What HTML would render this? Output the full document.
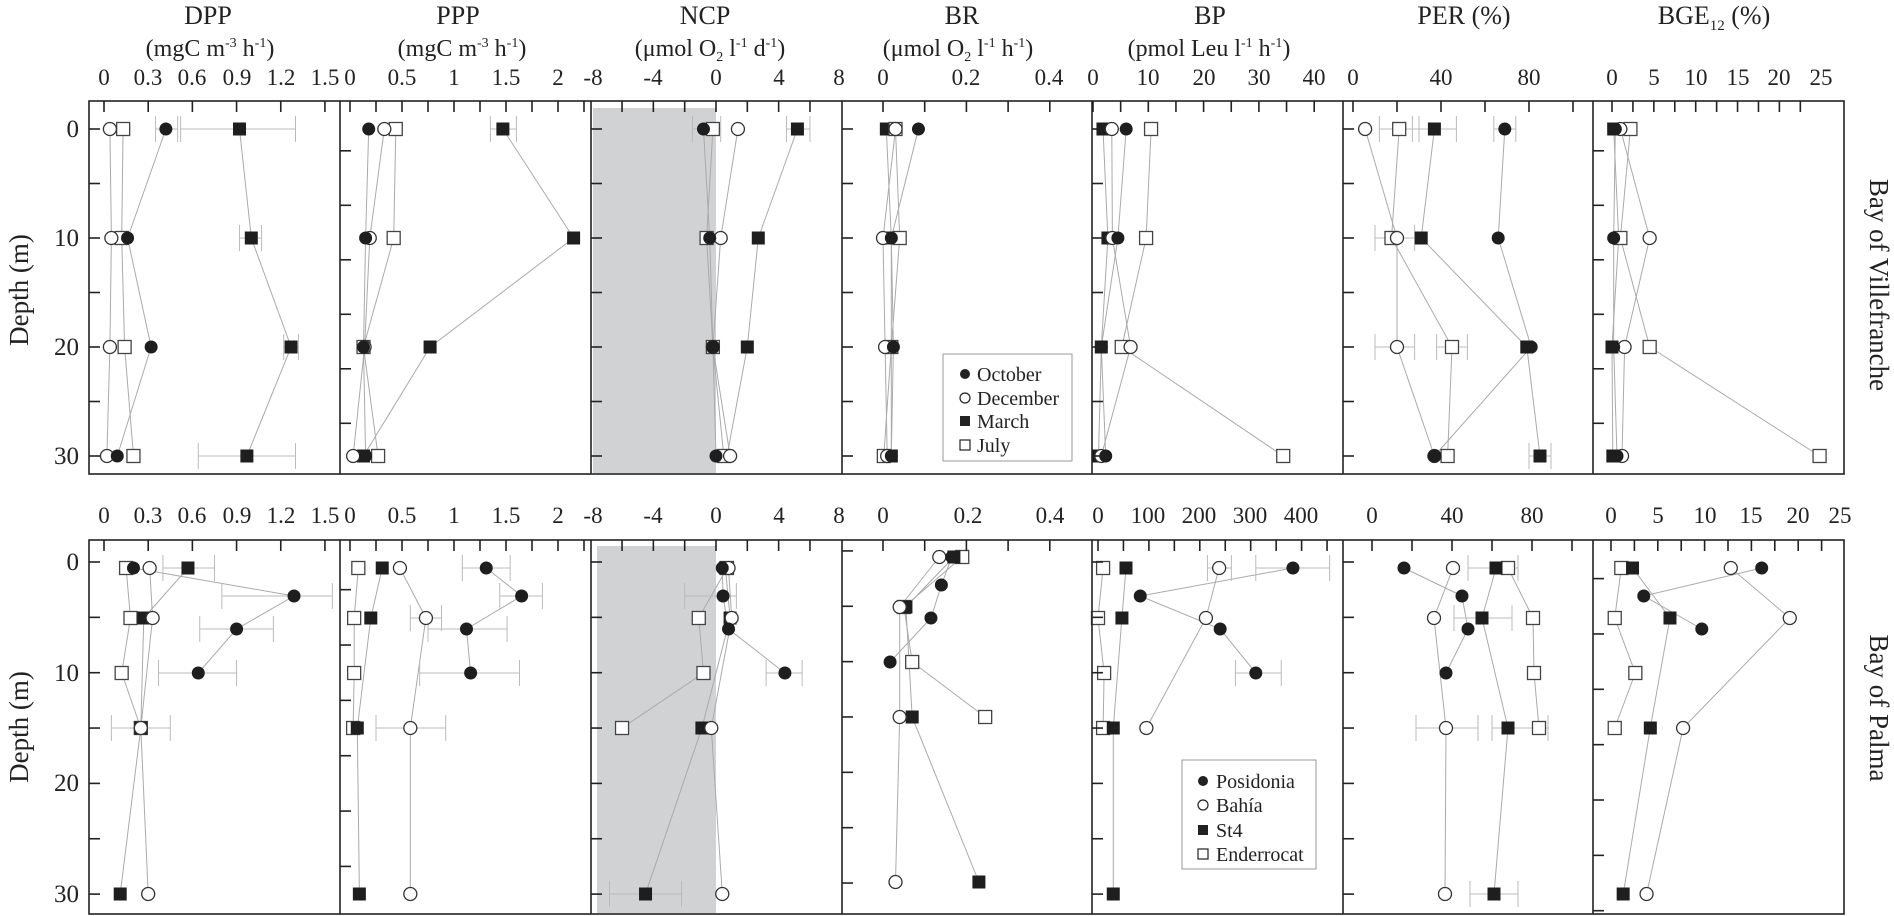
<!DOCTYPE html>
<html><head><meta charset="utf-8"><style>
html,body{margin:0;padding:0;background:#fff;}
svg{display:block;}
svg text{font-family:"Liberation Serif","DejaVu Serif",serif;}
</style></head><body>
<svg id="s" width="1894" height="916" viewBox="0 0 1894 916" xmlns="http://www.w3.org/2000/svg" font-family="Liberation Serif, DejaVu Serif, serif">
<rect x="0" y="0" width="1894" height="916" fill="#fff"/>
<rect x="593" y="108" width="123" height="365" fill="#d1d2d4"/>
<rect x="597" y="546" width="119" height="367" fill="#d1d2d4"/>
<g id="lines"></g><g id="errs"></g><g id="marks"></g><g id="axes" stroke="#222" fill="none" stroke-width="1.6"></g>
<g fill="#222" font-size="26" text-anchor="middle" font-family="Liberation Serif, serif">
<text x="208" y="24">DPP</text>
<text x="210" y="56" font-size="24">(mgC m<tspan font-size="14" dy="-9">-3</tspan><tspan dy="9"> h</tspan><tspan font-size="14" dy="-9">-1</tspan><tspan dy="9">)</tspan></text>
<text x="458" y="24">PPP</text>
<text x="462" y="56" font-size="24">(mgC m<tspan font-size="14" dy="-9">-3</tspan><tspan dy="9"> h</tspan><tspan font-size="14" dy="-9">-1</tspan><tspan dy="9">)</tspan></text>
<text x="705" y="24">NCP</text>
<text x="710" y="56" font-size="24">(μmol O<tspan font-size="14" dy="5">2</tspan><tspan dy="-5"> l</tspan><tspan font-size="14" dy="-9">-1</tspan><tspan dy="9"> d</tspan><tspan font-size="14" dy="-9">-1</tspan><tspan dy="9">)</tspan></text>
<text x="962" y="24">BR</text>
<text x="958" y="56" font-size="24">(μmol O<tspan font-size="14" dy="5">2</tspan><tspan dy="-5"> l</tspan><tspan font-size="14" dy="-9">-1</tspan><tspan dy="9"> h</tspan><tspan font-size="14" dy="-9">-1</tspan><tspan dy="9">)</tspan></text>
<text x="1210" y="24">BP</text>
<text x="1209" y="56" font-size="24">(pmol Leu l<tspan font-size="14" dy="-9">-1</tspan><tspan dy="9"> h</tspan><tspan font-size="14" dy="-9">-1</tspan><tspan dy="9">)</tspan></text>
<text x="1464" y="24">PER (%)</text>
<text x="1714" y="24">BGE<tspan font-size="15" dy="6">12</tspan><tspan dy="-6"> (%)</tspan></text>
</g>
<g fill="#222" font-size="23" text-anchor="middle" font-family="Liberation Serif, serif">
<text x="104" y="85">0</text><text x="148" y="85">0.3</text><text x="192" y="85">0.6</text><text x="237" y="85">0.9</text><text x="281" y="85">1.2</text><text x="325" y="85">1.5</text>
<text x="350" y="85">0</text><text x="402" y="85">0.5</text><text x="454" y="85">1</text><text x="506" y="85">1.5</text><text x="558" y="85">2</text>
<text x="593" y="85">-8</text><text x="653" y="85">-4</text><text x="716" y="85">0</text><text x="779" y="85">4</text><text x="839" y="85">8</text>
<text x="883" y="85">0</text><text x="966" y="85">0.2</text><text x="1049" y="85">0.4</text>
<text x="1093" y="85">0</text><text x="1148" y="85">10</text><text x="1204" y="85">20</text><text x="1259" y="85">30</text><text x="1314" y="85">40</text>
<text x="1353" y="85">0</text><text x="1441" y="85">40</text><text x="1529" y="85">80</text>
<text x="1612" y="85">0</text><text x="1654" y="85">5</text><text x="1696" y="85">10</text><text x="1738" y="85">15</text><text x="1779" y="85">20</text><text x="1821" y="85">25</text>

<text x="104" y="523">0</text><text x="148" y="523">0.3</text><text x="192" y="523">0.6</text><text x="237" y="523">0.9</text><text x="281" y="523">1.2</text><text x="325" y="523">1.5</text>
<text x="350" y="523">0</text><text x="402" y="523">0.5</text><text x="454" y="523">1</text><text x="506" y="523">1.5</text><text x="558" y="523">2</text>
<text x="593" y="523">-8</text><text x="653" y="523">-4</text><text x="716" y="523">0</text><text x="779" y="523">4</text><text x="839" y="523">8</text>
<text x="883" y="523">0</text><text x="968" y="523">0.2</text><text x="1050" y="523">0.4</text>
<text x="1098" y="523">0</text><text x="1148" y="523">100</text><text x="1199" y="523">200</text><text x="1250" y="523">300</text><text x="1301" y="523">400</text>
<text x="1372" y="523">0</text><text x="1452" y="523">40</text><text x="1532" y="523">80</text>
<text x="1611" y="523">0</text><text x="1658" y="523">5</text><text x="1705" y="523">10</text><text x="1751" y="523">15</text><text x="1798" y="523">20</text><text x="1840" y="523">25</text>
</g>
<g fill="#222" font-size="25" text-anchor="end" font-family="Liberation Serif, serif">
<text x="79" y="137">0</text><text x="79" y="246">10</text><text x="79" y="355">20</text><text x="79" y="464">30</text>
<text x="79" y="570">0</text><text x="79" y="681">10</text><text x="79" y="791">20</text><text x="79" y="902">30</text>
</g>
<g fill="#222" font-size="27" text-anchor="middle" font-family="Liberation Serif, serif">
<text transform="translate(28,290) rotate(-90)">Depth (m)</text>
<text transform="translate(28,727) rotate(-90)">Depth (m)</text>
<text transform="translate(1870,285) rotate(90)">Bay of Villefranche</text>
<text transform="translate(1870,708) rotate(90)">Bay of Palma</text>
</g>
<rect x="943" y="354" width="129" height="107" fill="#fff" stroke="#999" stroke-width="1"/>
<g fill="#222" font-size="20" font-family="Liberation Serif, serif">
<circle cx="965" cy="374" r="5" fill="#222"/><text x="977" y="381">October</text>
<circle cx="965" cy="398" r="5" fill="#fff" stroke="#222" stroke-width="1.2"/><text x="977" y="405">December</text>
<rect x="960" y="416" width="10" height="10" fill="#222"/><text x="977" y="428">March</text>
<rect x="960" y="440" width="10" height="10" fill="#fff" stroke="#222" stroke-width="1.2"/><text x="977" y="452">July</text>
</g>
<rect x="1182" y="760" width="134" height="109" fill="#fff" stroke="#999" stroke-width="1"/>
<g fill="#222" font-size="20" font-family="Liberation Serif, serif">
<circle cx="1203" cy="781" r="5" fill="#222"/><text x="1216" y="788">Posidonia</text>
<circle cx="1203" cy="805" r="5" fill="#fff" stroke="#222" stroke-width="1.2"/><text x="1216" y="812">Bahía</text>
<rect x="1198" y="825" width="10" height="10" fill="#222"/><text x="1216" y="837">St4</text>
<rect x="1198" y="849" width="10" height="10" fill="#fff" stroke="#222" stroke-width="1.2"/><text x="1216" y="861">Enderrocat</text>
</g>
</svg>
<script>
(function(){
var NS="http://www.w3.org/2000/svg";
function el(par,tag,a){var e=document.createElementNS(NS,tag);for(var k in a)e.setAttribute(k,a[k]);document.getElementById(par).appendChild(e);return e;}
var B=[89,340,591,842,1092,1343,1593,1844];
el("axes","rect",{x:89,y:101,width:1755,height:373});
el("axes","rect",{x:89,y:540,width:1755,height:374});
for(var i=1;i<7;i++){el("axes","line",{x1:B[i],y1:101,x2:B[i],y2:474});el("axes","line",{x1:B[i],y1:540,x2:B[i],y2:914});}
function xt(list,y0,dir){list.forEach(function(x){el("axes","line",{x1:x,y1:y0,x2:x,y2:y0+11*dir});});}
function rng(a,b,s){var r=[];for(var v=a;v<=b+1e-9;v+=s)r.push(v);return r;}
var fx={
 dpp:function(v){return 104+147.3*v;}, ppp:function(v){return 350+104*v;},
 ncp:function(v){return 716+15.66*v;}, br:function(v){return 883+417*v;},
 bpT:function(v){return 1093+5.53*v;}, perT:function(v){return 1353+2.2*v;}, bgeT:function(v){return 1612+8.37*v;},
 bpB:function(v){return 1098+0.509*v;}, perB:function(v){return 1372+2*v;}, bgeB:function(v){return 1611+9.36*v;}
};
[0,1].forEach(function(r){
 var y0=r?540:101;
 xt(rng(0,1.5,0.3).map(fx.dpp),y0,1);
 xt(rng(0,2.25,0.25).map(fx.ppp),y0,1);
 xt(rng(-6,6,2).map(fx.ncp),y0,1);
 xt(rng(0,0.4,0.1).map(fx.br),y0,1);
 if(r){xt(rng(0,450,50).map(fx.bpB).filter(function(x){return x<1340;}),y0,1);xt(rng(0,80,20).map(fx.perB).concat([1572]),y0,1);xt(rng(0,22.5,2.5).map(fx.bgeB),y0,1);}
 else{xt(rng(0,45,5).map(fx.bpT).filter(function(x){return x<1340;}),y0,1);xt(rng(0,100,20).map(fx.perT).filter(function(x){return x<1590;}),y0,1);xt(rng(0,22.5,2.5).map(fx.bgeT),y0,1);}
});
var offT=[0,2,0,0,0,0,2],offB=[0,2.5,0,-1,0,0,1.5];
for(var p=0;p<7;p++){
 for(var d=-5;d<=35;d+=5){
  var yt=129+10.9*(d+offT[p]); if(yt>104&&yt<472) el("axes","line",{x1:B[p],y1:yt,x2:B[p]+11,y2:yt});
  var yb=562+11.07*(d+offB[p]); if(yb>543&&yb<912) el("axes","line",{x1:B[p],y1:yb,x2:B[p]+11,y2:yb});
 }
}
function mark(t,x,y){
 if(t=="fc")el("marks","circle",{cx:x,cy:y,r:6.5,fill:"#1e1e1e"});
 else if(t=="oc")el("marks","circle",{cx:x,cy:y,r:6.5,fill:"#fff",stroke:"#333","stroke-width":1.3});
 else if(t=="fs")el("marks","rect",{x:x-6.5,y:y-6.5,width:13,height:13,fill:"#1e1e1e"});
 else el("marks","rect",{x:x-6.5,y:y-6.5,width:13,height:13,fill:"#fff",stroke:"#444","stroke-width":1.3});
}
function series(f,t,pts,ymap){
 var d="";pts.forEach(function(p,i){d+=(i?"L":"M")+f(p[0]).toFixed(1)+" "+ymap(p[1]).toFixed(1);});
 el("lines","path",{d:d,fill:"none",stroke:"#aaa","stroke-width":1});
 return function(){pts.forEach(function(p){mark(t,f(p[0]),ymap(p[1]));});};
}
function err(f,lo,hi,y){
 var a=f(lo),b=f(hi);
 el("errs","line",{x1:a,y1:y,x2:b,y2:y,stroke:"#bbb","stroke-width":1});
 el("errs","line",{x1:a,y1:y-13,x2:a,y2:y+13,stroke:"#bbb","stroke-width":1});
 el("errs","line",{x1:b,y1:y-13,x2:b,y2:y+13,stroke:"#bbb","stroke-width":1});
}
var yT=function(d){return 129+10.9*d;};
var YB={0:568,3:596,5:618,6:629,10:673,15:728,30:894};
var YBR={0:557,3:585,5:607,6:618,10:662,15:717,30:882};
var yB=function(k){return YB[k];}, yR=function(k){return YBR[k];};
var D=[0,10,20,30];
function top(f,oct,dec,mar,jul){
 var z=function(a){return a.map(function(v,i){return [v,D[i]];});};
 return [series(f,"fs",z(mar),yT),series(f,"os",z(jul),yT),series(f,"oc",z(dec),yT),series(f,"fc",z(oct),yT)];
}
var draws=[];
draws=draws.concat(top(fx.dpp,[0.42,0.16,0.32,0.09],[0.04,0.05,0.04,0.02],[0.92,1.0,1.27,0.97],[0.13,0.12,0.14,0.2]));
draws=draws.concat(top(fx.ppp,[0.18,0.15,0.13,0.15],[0.33,0.19,0.14,0.03],[1.47,2.15,0.77,0.13],[0.44,0.42,0.13,0.27]));
draws=draws.concat(top(fx.ncp,[-0.8,-0.4,-0.2,0],[1.4,0.3,-0.2,0.9],[5.2,2.7,2.0,0.7],[-0.2,-0.6,-0.2,0.5]));
draws=draws.concat(top(fx.br,[0.085,0.02,0.025,0.02],[0.03,0,0.005,0.01],[0.008,0.02,0.02,0.02],[0.03,0.04,0.02,0.002]));
draws=draws.concat(top(fx.bpT,[6,4.5,1.5,2.3],[3.4,3.5,6.8,1.5],[1.8,2.7,1.5,1],[10.5,9.6,5.2,34.4]));
draws=draws.concat(top(fx.perT,[69,66,81,37],[5.5,20,20,37],[37,31,79,85],[21,17.5,45,43]));
draws=draws.concat(top(fx.bgeT,[0.4,0.2,0.2,0.6],[1.0,4.5,1.5,1.2],[0.2,0.8,0,0.1],[2.2,1.0,4.5,24.8]));
err(fx.dpp,0.52,1.3,129);err(fx.dpp,0.35,0.5,129);err(fx.dpp,0.92,1.07,238);err(fx.dpp,1.22,1.32,347);err(fx.dpp,0.64,1.3,456);
err(fx.ppp,1.35,1.6,129);err(fx.ncp,4.5,6,129);err(fx.ncp,-1.5,0.3,129);
err(fx.perT,12,30,129);err(fx.perT,27,47,129);err(fx.perT,64,74,129);err(fx.perT,10,28,238);err(fx.perT,38,52,347);err(fx.perT,10,28,347);err(fx.perT,80,90,456);
function bot(f,ym,pos,bah,st4,end){
 return [series(f,"os",end,ym),series(f,"fs",st4,ym),series(f,"oc",bah,ym),series(f,"fc",pos,ym)];
}
draws=draws.concat(bot(fx.dpp,yB,[[0.2,0],[1.29,3],[0.9,6],[0.64,10]],[[0.31,0],[0.33,5],[0.25,15],[0.3,30]],[[0.57,0],[0.27,5],[0.25,15],[0.11,30]],[[0.15,0],[0.18,5],[0.12,10],[0.25,15]]));
draws=draws.concat(bot(fx.ppp,yB,[[1.31,0],[1.65,3],[1.12,6],[1.16,10]],[[0.48,0],[0.73,5],[0.58,15],[0.58,30]],[[0.31,0],[0.2,5],[0.07,15],[0.09,30]],[[0.08,0],[0.04,5],[0.04,10],[0.03,15]]));
draws=draws.concat(bot(fx.ncp,yB,[[0.4,0],[0.45,3],[0.8,6],[4.4,10]],[[0.8,0],[1.0,5],[-0.3,15],[0.4,30]],[[0.6,0],[0.9,5],[-0.9,15],[-4.5,30]],[[0.7,0],[-1.1,5],[-0.8,10],[-6,15]]));
draws=draws.concat(bot(fx.br,yR,[[0.165,0],[0.14,3],[0.115,6],[0.017,10]],[[0.135,0],[0.04,5],[0.04,15],[0.03,30]],[[0.17,0],[0.055,5],[0.07,15],[0.23,30]],[[0.19,0],[0.05,5],[0.07,10],[0.245,15]]));
draws=draws.concat(bot(fx.bpB,yB,[[383,0],[83,3],[240,6],[310,10]],[[238,0],[212,5],[95,15]],[[55,0],[47,5],[30,15],[30,30]],[[10,0],[0,5],[12,10],[10,15]]));
draws=draws.concat(bot(fx.perB,yB,[[16,0],[45,3],[48,6],[37,10]],[[40.5,0],[31,5],[37,15],[36.5,30]],[[62,0],[55,5],[68,15],[61,30]],[[68,0],[80.5,5],[81,10],[83.5,15]]));
draws=draws.concat(bot(fx.bgeB,yB,[[16.1,0],[3.5,3],[9.7,6]],[[12.8,0],[19.1,5],[7.7,15],[3.8,30]],[[2.3,0],[6.3,5],[4.2,15],[1.3,30]],[[1.1,0],[0.4,5],[2.6,10],[0.4,15]]));
err(fx.dpp,0.8,1.55,596);err(fx.dpp,0.65,1.15,629);err(fx.dpp,0.37,0.9,673);err(fx.dpp,0.4,0.75,568);err(fx.dpp,0.05,0.45,728);
err(fx.ppp,1.08,1.54,568);err(fx.ppp,1.44,1.85,596);err(fx.ppp,0.75,1.51,629);err(fx.ppp,0.67,1.63,673);err(fx.ppp,0.58,0.88,618);err(fx.ppp,0.25,0.92,728);
err(fx.ncp,3.2,5.5,673);err(fx.ncp,-6.8,-2.2,894);err(fx.ncp,-2,1.3,596);
err(fx.bpB,215,262,568);err(fx.bpB,310,455,568);err(fx.bpB,270,360,673);
err(fx.perB,48,73,568);err(fx.perB,41,70,618);err(fx.perB,22,53,728);err(fx.perB,49,73,894);err(fx.perB,60,88,728);
draws.forEach(function(fn){fn();});
})();
</script>
</body></html>
